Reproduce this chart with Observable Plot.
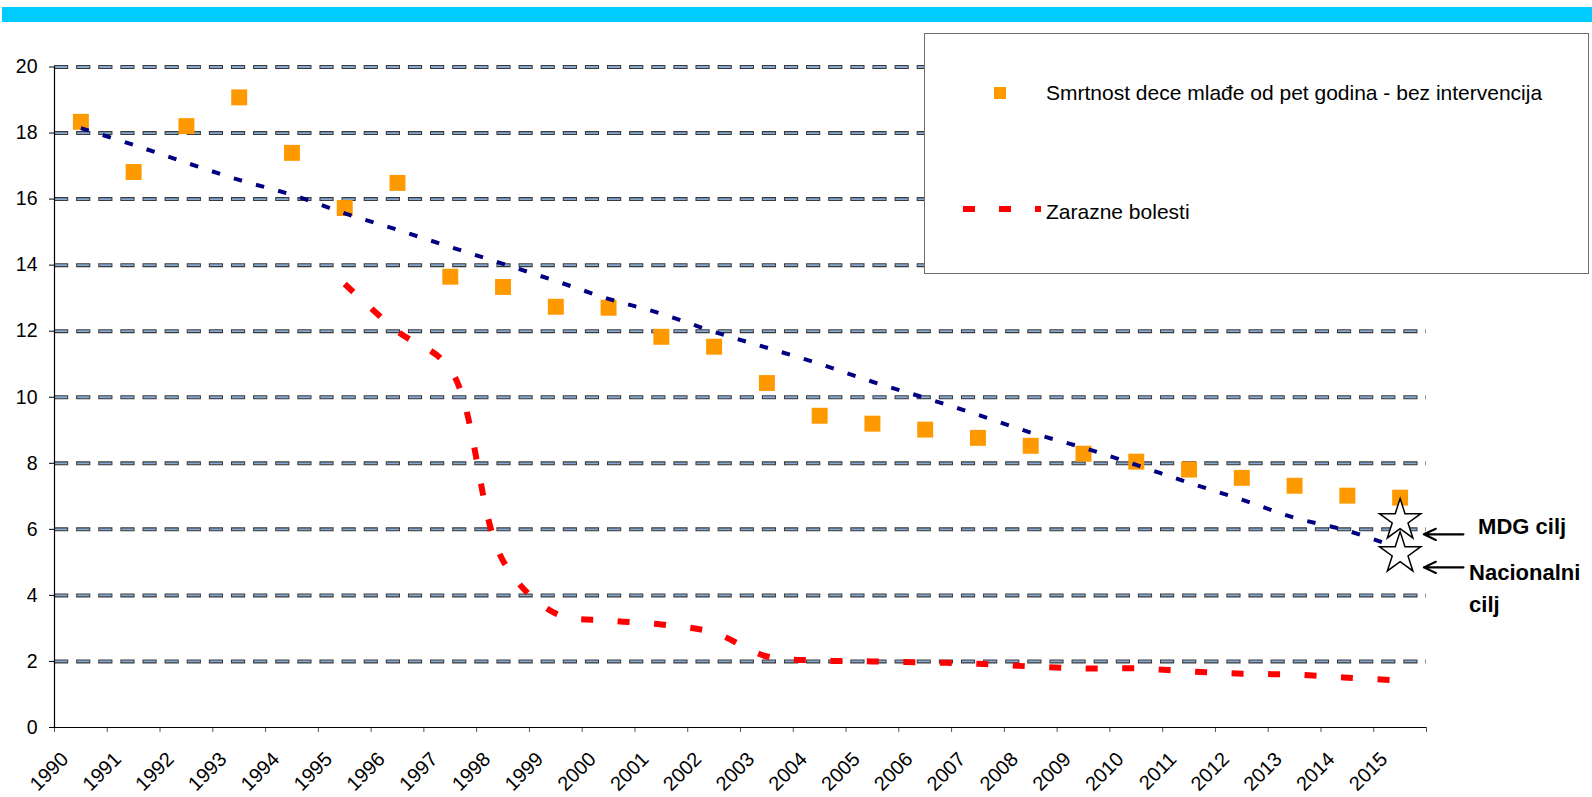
<!DOCTYPE html>
<html><head><meta charset="utf-8">
<script src="https://cdn.jsdelivr.net/npm/d3@7"></script>
<script src="https://cdn.jsdelivr.net/npm/@observablehq/plot@0.6"></script>
<style>
html,body{margin:0;padding:0;background:#fff;}
#wrap{position:relative;width:1592px;height:797px;overflow:hidden;font-family:"Liberation Sans",Arial,sans-serif;}
#chart{position:absolute;left:0;top:0;}
#bar{position:absolute;left:2px;right:0;top:7px;height:15px;background:#00ccff;}
#legend{position:absolute;left:924px;top:33px;width:665px;height:241px;box-sizing:border-box;border:1.5px solid #6e6e6e;background:#fff;}
#legend svg{position:absolute;left:-1.5px;top:-1.5px;}
</style></head><body>
<div id="wrap"><div id="chart"></div><div id="bar"></div><div id="legend"></div></div>
<script>
const years = [1990,1991,1992,1993,1994,1995,1996,1997,1998,1999,2000,2001,2002,2003,2004,2005,2006,2007,2008,2009,2010,2011,2012,2013,2014,2015];
const withoutIntervention = [18.34,16.82,18.21,19.08,17.40,15.73,16.49,13.65,13.34,12.74,12.71,11.83,11.53,10.43,9.44,9.20,9.02,8.77,8.53,8.29,8.05,7.81,7.56,7.32,7.02,6.96];
const trend = [18.15,17.64,17.10,16.58,16.13,15.57,15.07,14.55,14.04,13.52,12.98,12.53,11.98,11.50,11.01,10.47,9.98,9.47,8.93,8.47,7.95,7.41,6.90,6.35,5.96,5.42];
const infectiousYears = [1995,1996,1997,1998,1999,2000,2001,2002,2003,2004,2005,2006,2007,2008,2009,2010,2011,2012,2013,2014,2015];
const infectious = [13.43,12.0,10.85,5.05,3.45,3.24,3.12,2.87,2.15,2.03,2.0,1.97,1.93,1.85,1.79,1.79,1.70,1.63,1.60,1.51,1.42];
const targetYear = 2015;
const targetLabels = ["MDG cilj","Nacionalni\ncilj"];
const targetValues = [6,5];
const yTicks = [0,2,4,6,8,10,12,14,16,18,20];
const seriesNames = ["Smrtnost dece mlađe od pet godina - bez intervencija","Zarazne bolesti"];

const tickYears = [...years, years[years.length-1]+1];
const pts = years.map((y,i)=>({year:y, value:withoutIntervention[i]}));
const trendData = years.map((y,i)=>({year:y, value:trend[i]}));
const infData = infectiousYears.map((y,i)=>({year:y, value:infectious[i]}));
const targets = targetValues.map((v,i)=>({year:targetYear, value:v, label:targetLabels[i]}));
const mid = d => d.year + 0.5;
const font = '"Liberation Sans", Arial, sans-serif';

const chart = Plot.plot({
  width:1592, height:797,
  marginLeft:54, marginRight:166, marginTop:66.5, marginBottom:70,
  x:{type:"linear", domain:[tickYears[0], tickYears[tickYears.length-1]]},
  y:{domain:[0,20]},
  style:{fontFamily:font, fontSize:"19px", color:"#000", background:"transparent", overflow:"visible"},
  marks:[
    Plot.ruleY(yTicks.filter(d=>d>0), {stroke:"#3a3a3a", strokeWidth:4, strokeDasharray:"14.2,7.92"}),
    Plot.ruleY(yTicks.filter(d=>d>0), {stroke:"#86a9d2", strokeWidth:1.8, strokeDasharray:"0,1,12.2,8.92"}),
    Plot.axisY({ticks:yTicks, tickSize:5, tickPadding:12, fontSize:19.5, label:null, stroke:"#000"}),
    Plot.axisX({ticks:tickYears, tickSize:5, tickFormat:()=>"", label:null, stroke:"#555"}),
    Plot.text(years, {x:d=>d, text:d=>String(d), frameAnchor:"bottom", textAnchor:"end", lineAnchor:"bottom", rotate:-45, dx:15, dy:33, fontSize:20}),
    Plot.ruleX([tickYears[0]], {stroke:"#000", strokeWidth:1.2}),
    Plot.ruleY([0], {stroke:"#000", strokeWidth:1.2}),
    Plot.dot(pts, {x:mid, y:"value", symbol:"square", r:9, fill:"#ff9900"}),
    Plot.line(trendData, {x:mid, y:"value", stroke:"#000080", strokeWidth:4, strokeDasharray:"8.5,14.5", strokeLinecap:"butt", curve:"catmull-rom"}),
    Plot.line(infData, {x:mid, y:"value", stroke:"#ff0000", strokeWidth:6, strokeDasharray:"12,24.5", strokeLinecap:"butt", curve:"catmull-rom"}),
    Plot.dot(targets, {x:mid, y:"value", symbol:"star", r:13, fill:"#fff", stroke:"#000", strokeWidth:1.5, dy:-9}),
    Plot.arrow(targets, {x1:d=>d.year+1.7, x2:d=>d.year+0.95, y1:"value", y2:"value", dy:5, stroke:"#000", strokeWidth:2.2, headLength:11, headAngle:50}),
    Plot.text(targets.slice(0,1), {x:mid, y:"value", text:"label", textAnchor:"start", lineAnchor:"middle", dx:78, dy:-2, fontSize:22, fontWeight:"bold"}),
    Plot.text(targets.slice(1,2), {x:mid, y:"value", text:"label", textAnchor:"start", lineAnchor:"top", dx:69, dy:-5, lineHeight:1.45, fontSize:22, fontWeight:"bold"})
  ]
});
document.getElementById("chart").appendChild(chart);

// legend
const leg = d3.select("#legend").append("svg").attr("width",665).attr("height",241)
  .style("font-family", font);
leg.append("rect").attr("x",70).attr("y",54).attr("width",12).attr("height",12).attr("fill","#ff9900");
leg.append("text").attr("x",122).attr("y",67).attr("font-size",21).attr("fill","#000").text(seriesNames[0]);
leg.append("line").attr("x1",39).attr("x2",117).attr("y1",176).attr("y2",176)
  .attr("stroke","#ff0000").attr("stroke-width",6).attr("stroke-dasharray","12,24");
leg.append("text").attr("x",122).attr("y",186).attr("font-size",21).attr("fill","#000").text(seriesNames[1]);
</script>
</body></html>
